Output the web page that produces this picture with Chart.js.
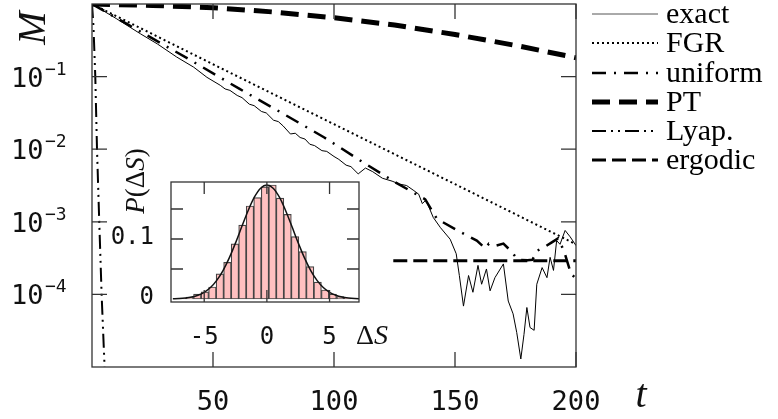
<!DOCTYPE html>
<html>
<head>
<meta charset="utf-8">
<script src="https://cdn.jsdelivr.net/npm/chart.js@4.4.1/dist/chart.umd.min.js"></script>
<style>
  html, body { margin: 0; padding: 0; background: #fff; }
  #wrap { position: relative; width: 778px; height: 419px; }
  #main { position: absolute; left: 0; top: 0; }
  #inset { position: absolute; left: 105px; top: 140px; }
</style>
</head>
<body>
<div id="wrap">
  <canvas id="main" width="778" height="419"></canvas>
  <canvas id="inset" width="295" height="215"></canvas>
</div>
<script>
"use strict";

// ---- main panel data: M(t), log scale ----
var seriesNames = ["exact", "FGR", "uniform", "PT", "Lyap.", "ergodic"];

var tExact = [0, 10, 20, 27, 35, 42, 47.5, 50, 53, 55, 57, 60, 62, 65, 67, 70, 72, 75, 77, 79, 82,
  84, 86, 88, 90, 92, 95, 97, 100, 102, 105, 107, 110,
  113, 116, 120, 124, 127, 130, 133, 135, 136.5, 138, 141, 144, 148, 150.5, 151.8, 153.5, 155.6,
  157.4, 159.5, 161, 163, 164.5, 166.5, 170, 172, 174, 175.5, 177.2, 178.5, 179.7, 181, 182.7,
  183.8, 186, 188, 189.3, 190.7, 192, 193.4, 195.5, 197.6, 200];
var mExact = [1, 0.631, 0.389, 0.282, 0.186, 0.135, 0.0977, 0.0871, 0.0759, 0.0676, 0.0646,
  0.055, 0.0513, 0.0417, 0.0398, 0.0331, 0.0316, 0.0251, 0.024, 0.0209, 0.0162,
  0.0166, 0.0145, 0.0138, 0.0117, 0.0112, 0.00955, 0.00933, 0.00794, 0.00724, 0.00603, 0.00575,
  0.00457,
  0.0055, 0.0049, 0.00398, 0.00363, 0.00331, 0.00316, 0.00269, 0.0024, 0.00178, 0.002, 0.00115,
  8.3e-4, 5.75e-4, 3.63e-4, 1.82e-4, 6.9e-5, 1.82e-4,
  1.07e-4, 2.51e-4, 1.38e-4, 2.24e-4, 1.12e-4, 1.7e-4, 2.63e-4, 8.1e-5, 5.4e-5, 3.0e-5, 1.29e-5,
  2.8e-5, 6.6e-5, 3.5e-5, 3.2e-5,
  1.38e-4, 2.34e-4, 1.7e-4, 3.24e-4, 2.14e-4, 5.5e-4, 4.9e-4, 7.6e-4, 6.2e-4, 4.7e-4];

var tFgr = [0, 50, 100, 150, 200];
var mFgr = [1, 0.148, 0.0221, 0.0033, 4.9e-4];

var tUniform = [0, 20, 40, 61, 80, 96, 112, 125, 137.7, 142.5, 151, 159, 162.5, 164, 167, 170,
  173, 176, 180, 182, 184, 187, 190, 192.6, 195, 198, 200];
var mUniform = [1, 0.417, 0.174, 0.0676, 0.0295, 0.0145, 0.0066, 0.00355, 0.00204, 0.0011,
  7.6e-4, 5.5e-4, 4.3e-4, 5.0e-4, 4.7e-4, 5.0e-4, 4.0e-4, 3.0e-4, 2.95e-4, 3.0e-4, 4.0e-4,
  4.5e-4, 5.2e-4, 5.9e-4, 4.0e-4, 1.9e-4, 1.66e-4];

var tPt = [0, 25, 50, 75, 100, 125, 150, 175, 200];
var mPt = [1, 0.955, 0.891, 0.776, 0.646, 0.513, 0.38, 0.269, 0.182];

var tLyap = [0, 0.6, 1.36, 2.07, 3.0, 3.97, 5.2, 5.6];
var mLyap = [1, 0.5, 0.1, 0.01, 0.001, 1e-4, 1e-5, 5e-6];

var tErgodic = [124.5, 200];
var mErgodic = [2.9e-4, 2.9e-4];

var xTicks = [50, 100, 150, 200];
var yTickExps = [-1, -2, -3, -4];

// ---- inset data: histogram of dS with gaussian ----
var histCenters = [-6.75, -6.15, -5.55, -4.95, -4.35, -3.75, -3.15, -2.55, -1.95, -1.35, -0.75,
  -0.15, 0.45, 1.05, 1.65, 2.25, 2.85, 3.45, 4.05, 4.65, 5.25, 5.85, 6.45];
var histValues = [0.001, 0.003, 0.008, 0.012, 0.02, 0.042, 0.061, 0.092, 0.123, 0.155, 0.169,
  0.187, 0.19, 0.168, 0.141, 0.104, 0.079, 0.054, 0.028, 0.015, 0.008, 0.004, 0.001];

var gaussX = [-7.5, -7, -6.5, -6, -5.5, -5, -4.5, -4, -3.5, -3, -2.5, -2, -1.5, -1, -0.5, 0,
  0.5, 1, 1.5, 2, 2.5, 3, 3.5, 4, 4.5, 5, 5.5, 6, 6.5, 7, 7.5];
var gaussY = [0.0003, 0.0007, 0.0016, 0.0032, 0.0062, 0.0112, 0.0191, 0.031, 0.0474, 0.0685,
  0.0935, 0.1207, 0.1472, 0.1697, 0.1847, 0.19, 0.1847, 0.1697, 0.1472, 0.1207, 0.0935, 0.0685,
  0.0474, 0.031, 0.0191, 0.0112, 0.0062, 0.0032, 0.0016, 0.0007, 0.0003];

var insetXTicks = [-5, 0, 5];
var insetYTicks = [0.05, 0.1, 0.15];
var insetYLabels = [[0, "0"], [0.1, "0.1"]];

var MONO = "'DejaVu Sans Mono', monospace";
var SERIF = "'Liberation Serif', 'Times New Roman', serif";

function _pairs(xs, ys) {
  return xs.map(function(x, i) { return { x: x, y: ys[i] }; });
}

function _line(label, xs, ys, width, dash) {
  return {
    label: label,
    data: _pairs(xs, ys),
    borderColor: "#000",
    borderWidth: width,
    borderDash: dash,
    pointRadius: 0,
    tension: 0,
    fill: false
  };
}

// draws text pieces centred on 0,0 (upright / italic mixes)
function _drawPieces(ctx, pieces, size) {
  var total = 0;
  ctx.textAlign = "left";
  pieces.forEach(function(p) {
    ctx.font = (p[1] ? "italic " : "") + size + "px " + SERIF;
    p.w = ctx.measureText(p[0]).width;
    total += p.w;
  });
  var x = -total / 2;
  pieces.forEach(function(p) {
    ctx.font = (p[1] ? "italic " : "") + size + "px " + SERIF;
    ctx.fillText(p[0], x, 0);
    x += p.w;
  });
}

var mainDecor = {
  id: "mainDecor",
  afterDraw: function(chart) {
    var ctx = chart.ctx;
    var a = chart.chartArea;
    var xs = chart.scales.x;
    var ys = chart.scales.y;
    ctx.save();
    ctx.strokeStyle = "#333";
    ctx.lineWidth = 1.3;
    ctx.setLineDash([]);
    ctx.strokeRect(a.left, a.top, a.right - a.left, a.bottom - a.top);

    ctx.beginPath();
    xTicks.forEach(function(v) {
      var px = xs.getPixelForValue(v);
      ctx.moveTo(px, a.bottom); ctx.lineTo(px, a.bottom - 15);
      ctx.moveTo(px, a.top); ctx.lineTo(px, a.top + 15);
    });
    yTickExps.forEach(function(e) {
      var py = ys.getPixelForValue(Math.pow(10, e));
      ctx.moveTo(a.left, py); ctx.lineTo(a.left + 15, py);
      ctx.moveTo(a.right, py); ctx.lineTo(a.right - 15, py);
    });
    ctx.stroke();

    // tick labels
    ctx.fillStyle = "#111";
    ctx.textBaseline = "alphabetic";
    ctx.textAlign = "center";
    ctx.font = "27px " + MONO;
    xTicks.forEach(function(v) {
      ctx.fillText(String(v), xs.getPixelForValue(v), 410);
    });
    yTickExps.forEach(function(e) {
      var py = ys.getPixelForValue(Math.pow(10, e));
      ctx.textAlign = "left";
      ctx.font = "27px " + MONO;
      ctx.fillText("10", 11, py + 10);
      ctx.font = "18px " + MONO;
      ctx.fillText("\u2212" + (-e), 45, py - 2);
    });

    // axis titles
    ctx.save();
    ctx.translate(34, 28);
    ctx.rotate(-Math.PI / 2);
    ctx.textBaseline = "middle";
    _drawPieces(ctx, [["M", true]], 40);
    ctx.restore();

    ctx.save();
    ctx.translate(641, 396);
    ctx.textBaseline = "middle";
    _drawPieces(ctx, [["t", true]], 40);
    ctx.restore();

    // legend
    var rowY = [14, 43, 73, 102, 131, 160];
    chart.data.datasets.forEach(function(ds, i) {
      var y = rowY[i];
      ctx.beginPath();
      ctx.strokeStyle = i === 0 ? "#555" : "#000";
      ctx.lineWidth = ds.borderWidth;
      ctx.setLineDash(ds.borderDash || []);
      ctx.moveTo(592, y);
      ctx.lineTo(658, y);
      ctx.stroke();
      ctx.setLineDash([]);
      ctx.font = "30px " + SERIF;
      ctx.textAlign = "left";
      ctx.textBaseline = "middle";
      ctx.fillStyle = "#000";
      ctx.fillText(ds.label, 666, y + 1);
    });
    ctx.restore();
  }
};

new Chart(document.getElementById("main"), {
  type: "line",
  data: {
    datasets: [
      _line(seriesNames[0], tExact, mExact, 1, []),
      _line(seriesNames[1], tFgr, mFgr, 2, [2, 3]),
      _line(seriesNames[2], tUniform, mUniform, 2.5, [14, 8, 2, 8]),
      _line(seriesNames[3], tPt, mPt, 5, [18, 9]),
      _line(seriesNames[4], tLyap, mLyap, 2, [14, 5, 2, 5, 2, 5]),
      _line(seriesNames[5], tErgodic, mErgodic, 3, [14, 6])
    ]
  },
  options: {
    responsive: false,
    animation: false,
    devicePixelRatio: 1,
    layout: { padding: { left: 92, top: 4, right: 202, bottom: 52 } },
    plugins: { legend: { display: false }, tooltip: { enabled: false } },
    scales: {
      x: { type: "linear", min: 0, max: 200, display: false },
      y: { type: "logarithmic", min: 1e-5, max: 1, display: false }
    }
  },
  plugins: [mainDecor]
});

var insetDecor = {
  id: "insetDecor",
  afterDraw: function(chart) {
    var ctx = chart.ctx;
    var a = chart.chartArea;
    var xs = chart.scales.x;
    var ys = chart.scales.y;
    ctx.save();
    ctx.strokeStyle = "#333";
    ctx.lineWidth = 1.3;
    ctx.strokeRect(a.left, a.top, a.right - a.left, a.bottom - a.top);
    ctx.beginPath();
    insetXTicks.forEach(function(v) {
      var px = xs.getPixelForValue(v);
      ctx.moveTo(px, a.top); ctx.lineTo(px, a.top + 12);
      ctx.moveTo(px, a.bottom); ctx.lineTo(px, a.bottom - 12);
    });
    insetYTicks.forEach(function(v) {
      var py = ys.getPixelForValue(v);
      ctx.moveTo(a.left, py); ctx.lineTo(a.left + 12, py);
      ctx.moveTo(a.right, py); ctx.lineTo(a.right - 12, py);
    });
    ctx.stroke();

    ctx.fillStyle = "#111";
    ctx.font = "24px " + MONO;
    ctx.textBaseline = "middle";
    ctx.textAlign = "center";
    insetXTicks.forEach(function(v) {
      ctx.fillText(v < 0 ? "-" + (-v) : String(v), xs.getPixelForValue(v), 198);
    });
    ctx.textAlign = "right";
    insetYLabels.forEach(function(l) {
      ctx.fillText(l[1], 49, ys.getPixelForValue(l[0]) - 1);
    });

    ctx.save();
    ctx.translate(267, 197);
    ctx.textBaseline = "middle";
    _drawPieces(ctx, [["\u0394", false], ["S", true]], 28);
    ctx.restore();

    ctx.save();
    ctx.translate(32, 41);
    ctx.rotate(-Math.PI / 2);
    ctx.textBaseline = "middle";
    _drawPieces(ctx, [["P", true], ["(", false], ["\u0394", false], ["S", true], [")", false]], 27);
    ctx.restore();
    ctx.restore();
  }
};

new Chart(document.getElementById("inset"), {
  type: "bar",
  data: {
    datasets: [
      {
        type: "line",
        data: _pairs(gaussX, gaussY),
        borderColor: "#111",
        borderWidth: 1.5,
        pointRadius: 0,
        tension: 0.3,
        order: 0
      },
      {
        type: "bar",
        data: _pairs(histCenters, histValues),
        backgroundColor: "#ffc0c0",
        borderColor: "#444",
        borderWidth: 1.2,
        borderSkipped: false,
        barPercentage: 1,
        categoryPercentage: 1,
        order: 1
      }
    ]
  },
  options: {
    responsive: false,
    animation: false,
    devicePixelRatio: 1,
    layout: { padding: { left: 66, top: 42, right: 41, bottom: 53 } },
    plugins: { legend: { display: false }, tooltip: { enabled: false } },
    scales: {
      x: { type: "linear", min: -7.65, max: 7.35, offset: false, display: false },
      y: { type: "linear", min: -0.005, max: 0.195, display: false }
    }
  },
  plugins: [insetDecor]
});
</script>
</body>
</html>
